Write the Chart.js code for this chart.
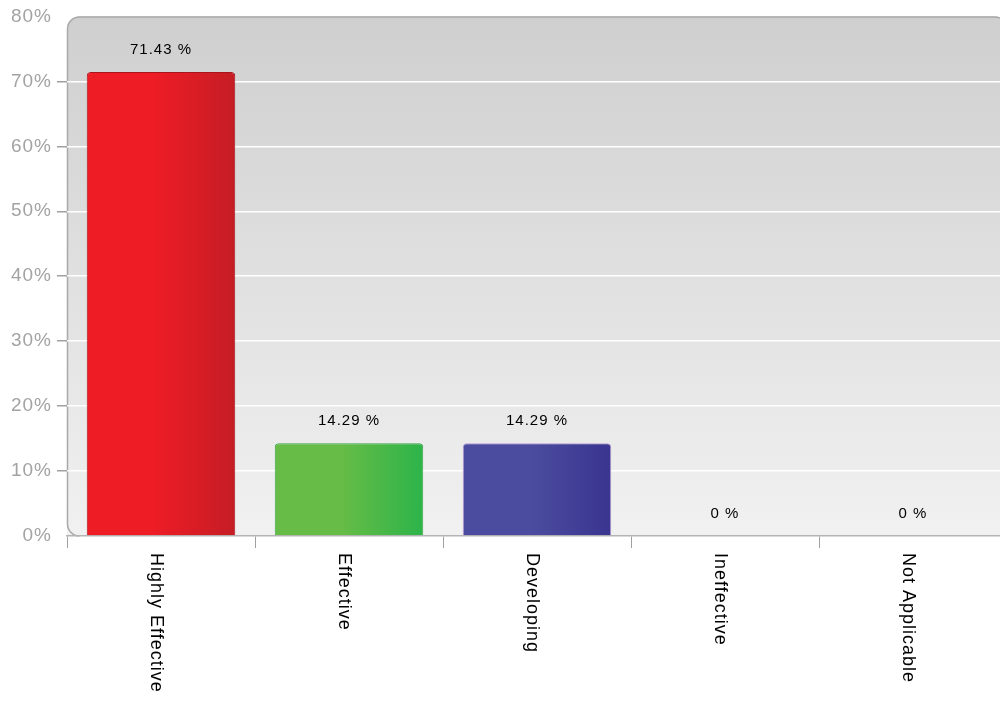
<!DOCTYPE html>
<html>
<head>
<meta charset="utf-8">
<script src="https://cdn.jsdelivr.net/npm/chart.js@4.4.1/dist/chart.umd.min.js"></script>
<style>
  html, body { margin: 0; padding: 0; background: #fff; overflow: hidden; }
  #wrap { width: 1000px; height: 705px; overflow: hidden; position: relative; }
  #box { width: 1010px; height: 705px; }
</style>
</head>
<body>
<div id="wrap"><div id="box"><canvas id="chart"></canvas></div></div>
<script>
const categories = ['Highly Effective', 'Effective', 'Developing', 'Ineffective', 'Not Applicable'];
const values = [71.43, 14.29, 14.29, 0, 0];
const yTicks = [0, 10, 20, 30, 40, 50, 60, 70, 80];

// left / right colours of each bar's horizontal gradient
const barLeft = ['#ee1c25', '#66bc46', '#4b4c9f', '#888888', '#888888'];
const barRight = ['#c51d25', '#2db44a', '#3a3590', '#777777', '#777777'];
const barBorder = ['#a8151c', '#3aa648', '#b79ad0', '#999999', '#999999'];

const BAR_PCT = 0.79;

function barGradient(ctx) {
  const chart = ctx.chart;
  if (!chart.chartArea || !chart.scales.x) return barLeft[ctx.dataIndex];
  const x = chart.scales.x.getPixelForValue(ctx.dataIndex);
  const w = chart.scales.x.width / categories.length * BAR_PCT;
  const g = chart.ctx.createLinearGradient(x - w / 2, 0, x + w / 2, 0);
  g.addColorStop(0, barLeft[ctx.dataIndex]);
  g.addColorStop(0.45, barLeft[ctx.dataIndex]);
  g.addColorStop(1, barRight[ctx.dataIndex]);
  return g;
}

// rounded grey panel behind the bars
const panel = {
  id: 'panel',
  beforeDraw(chart) {
    const { ctx, chartArea: a } = chart;
    ctx.letterSpacing = '1px';
    const r = 12;
    ctx.save();
    const g = ctx.createLinearGradient(0, a.top, 0, a.bottom);
    g.addColorStop(0, '#cfcfcf');
    g.addColorStop(1, '#f1f1f1');
    ctx.beginPath();
    ctx.moveTo(a.left, a.bottom);
    ctx.lineTo(a.left, a.top + r);
    ctx.arcTo(a.left, a.top, a.left + r, a.top, r);
    ctx.lineTo(a.right - r, a.top);
    ctx.arcTo(a.right, a.top, a.right, a.top + r, r);
    ctx.lineTo(a.right, a.bottom);
    ctx.closePath();
    ctx.fillStyle = g;
    ctx.fill();
    ctx.beginPath();
    ctx.moveTo(a.left + 0.5, a.bottom - r);
    ctx.arcTo(a.left + 0.5, a.bottom, a.left + r, a.bottom, r);
    ctx.moveTo(a.left + 0.5, a.bottom - r);
    ctx.lineTo(a.left + 0.5, a.top + r);
    ctx.arcTo(a.left + 0.5, a.top + 0.5, a.left + r, a.top + 0.5, r);
    ctx.lineTo(a.right - r, a.top + 0.5);
    ctx.arcTo(a.right, a.top + 0.5, a.right, a.top + r, r);
    ctx.strokeStyle = '#a9a9a9';
    ctx.lineWidth = 1.5;
    ctx.stroke();
    ctx.restore();
  }
};

// value labels above the bars and vertical category labels
const labels = {
  id: 'labels',
  afterDatasetsDraw(chart) {
    const { ctx } = chart;
    const meta = chart.getDatasetMeta(0);
    ctx.save();
    ctx.letterSpacing = '1px';
    ctx.fillStyle = '#000';
    ctx.font = '15px "Liberation Sans", Arial, sans-serif';
    ctx.textAlign = 'center';
    ctx.textBaseline = 'middle';
    meta.data.forEach((bar, i) => {
      ctx.fillText(values[i] + ' %', bar.x, bar.y - 22);
    });
    const xs = chart.scales.x;
    ctx.font = '18px "Liberation Sans", Arial, sans-serif';
    ctx.textAlign = 'left';
    categories.forEach((c, i) => {
      ctx.save();
      ctx.translate(xs.getPixelForValue(i) - 5, xs.top + 17);
      ctx.rotate(Math.PI / 2);
      ctx.fillText(c, 0, 0);
      ctx.restore();
    });
    ctx.restore();
  }
};

new Chart(document.getElementById('chart'), {
  type: 'bar',
  data: {
    labels: categories,
    datasets: [{
      data: values,
      backgroundColor: barGradient,
      borderColor: barBorder,
      borderWidth: 1,
      borderRadius: { topLeft: 4, topRight: 4, bottomLeft: 0, bottomRight: 0 },
      borderSkipped: 'bottom',
      barPercentage: BAR_PCT,
      categoryPercentage: 1
    }]
  },
  options: {
    responsive: true,
    maintainAspectRatio: false,
    animation: false,
    layout: { padding: { top: 15, right: 3, left: 0, bottom: 0 } },
    plugins: { legend: { display: false }, tooltip: { enabled: false } },
    scales: {
      x: {
        grid: {
          offset: true,
          drawOnChartArea: false,
          tickLength: 12,
          tickColor: '#a0a0a0'
        },
        border: { color: '#b4b4b4', width: 1.5 },
        ticks: { display: false },
        afterFit(scale) { scale.height = 169; }
      },
      y: {
        min: 0,
        max: 80,
        afterBuildTicks(scale) { scale.ticks = yTicks.map(v => ({ value: v })); },
        grid: {
          color: c => (c.tick.value > 0 && c.tick.value < 80) ? '#ffffff' : 'rgba(0,0,0,0)',
          tickColor: c => (c.tick.value > 0 && c.tick.value < 80) ? '#a0a0a0' : 'rgba(0,0,0,0)',
          lineWidth: 1.5,
          tickLength: 10
        },
        border: { display: false },
        ticks: {
          color: '#a3a3a3',
          padding: 5,
          font: { size: 19, family: '"Liberation Sans", Arial, sans-serif' },
          callback: v => v + '%'
        },
        afterFit(scale) { scale.width = 67; }
      }
    }
  },
  plugins: [panel, labels]
});
</script>
</body>
</html>
